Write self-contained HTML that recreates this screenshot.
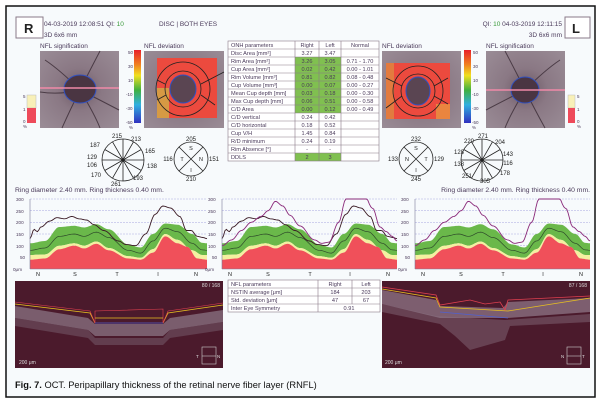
<!DOCTYPE html>
<html><head><meta charset="utf-8"><style>
html,body{margin:0;padding:0;background:#fff;}
svg{display:block;font-family:"Liberation Sans",sans-serif;}
</style></head><body>
<svg id="s" width="600" height="403" viewBox="0 0 600 403" xmlns="http://www.w3.org/2000/svg">
<defs>
<linearGradient id="cb" x1="0" y1="0" x2="0" y2="1">
<stop offset="0" stop-color="#e8202a"/><stop offset="0.2" stop-color="#f08020"/><stop offset="0.35" stop-color="#f0e020"/><stop offset="0.55" stop-color="#40b040"/><stop offset="0.75" stop-color="#30b0e0"/><stop offset="1" stop-color="#3030c0"/>
</linearGradient>
<radialGradient id="fund" cx="0.5" cy="0.5" r="0.7">
<stop offset="0" stop-color="#6a5662"/><stop offset="0.4" stop-color="#8a7884"/><stop offset="1" stop-color="#9a8c96"/>
</radialGradient>
</defs>
<rect x="0" y="0" width="600" height="403" fill="#fff"/>
<rect x="6" y="6" width="589" height="391" fill="#f7fafc" stroke="#111" stroke-width="1.5"/>

<!-- header -->
<rect x="16" y="17" width="27" height="21" fill="#fff" stroke="#8a7a88"/>
<text x="24" y="33" font-size="13" font-weight="bold" fill="#222">R</text>
<text x="44" y="26" font-size="6.5" fill="#4a3a5a">04-03-2019 12:08:51  QI: <tspan fill="#3a9a3a">10</tspan></text>
<text x="159" y="26" font-size="6.5" fill="#4a3a5a">DISC | BOTH EYES</text>
<text x="44" y="37" font-size="6.5" fill="#4a3a5a">3D  6x6 mm</text>
<rect x="565" y="17" width="25" height="21" fill="#fff" stroke="#8a7a88"/>
<text x="572" y="33" font-size="13" font-weight="bold" fill="#222">L</text>
<text x="562" y="26" font-size="6.5" fill="#4a3a5a" text-anchor="end">QI: <tspan fill="#3a9a3a">10</tspan>  04-03-2019 12:11:15</text>
<text x="562" y="37" font-size="6.5" fill="#4a3a5a" text-anchor="end">3D  6x6 mm</text>

<!-- left images -->
<text x="40" y="48" font-size="6.5" fill="#4a3a5a">NFL signification</text>
<rect x="40" y="51" width="79" height="77" fill="url(#fund)"/>
<g stroke="#3a2a34" stroke-width="1" fill="none" opacity="0.8">
<path d="M80 90 Q90 70 100 51 M80 90 Q60 70 45 60 M80 90 Q100 100 119 110 M80 90 Q70 110 62 128 M80 90 Q95 115 100 128 M80 90 Q60 95 40 92"/>
</g>
<ellipse cx="80" cy="89" rx="16" ry="14" fill="#4a3542" stroke="#3050c0" stroke-width="1"/>
<line x1="40" y1="88" x2="119" y2="88" stroke="#f08aa8" stroke-width="1.5"/>
<rect x="27" y="95" width="9" height="13" fill="#f8f0b8" stroke="#bbb" stroke-width="0.5"/>
<rect x="27" y="108" width="9" height="15" fill="#ee4a5a"/>
<text x="23" y="98" font-size="4.5" fill="#4a3a5a">5</text>
<text x="23" y="111" font-size="4.5" fill="#4a3a5a">1</text>
<text x="23" y="123" font-size="4.5" fill="#4a3a5a">0</text>
<text x="23" y="128" font-size="4.5" fill="#4a3a5a">%</text>
<rect x="134" y="50" width="7" height="73" fill="url(#cb)"/>
<g font-size="4.5" fill="#4a3a5a"><text x="128" y="54">50</text><text x="128" y="68">30</text><text x="128" y="82">10</text><text x="126" y="96">-10</text><text x="126" y="110">-30</text><text x="126" y="124">-50</text><text x="129" y="129">%</text></g>
<text x="144" y="48" font-size="6.5" fill="#4a3a5a">NFL deviation</text>
<rect x="144" y="51" width="80" height="77" fill="url(#fund)"/>
<rect x="157" y="58" width="60" height="60" fill="#ec4a3e"/>
<rect x="157" y="88" width="12" height="30" fill="#c8d04a" opacity="0.6"/>
<g fill="none" stroke="#222" stroke-width="0.8"><circle cx="183" cy="89" r="27"/><circle cx="183" cy="89" r="18"/><path d="M157 80 L165 84 M201 84 L224 72 M157 100 L166 95 M201 95 L215 105"/></g>
<ellipse cx="183" cy="89" rx="13" ry="14" fill="#5a4552" stroke="#3050c0"/>

<!-- right images -->
<text x="382" y="48" font-size="6.5" fill="#4a3a5a">NFL deviation</text>
<rect x="382" y="51" width="79" height="77" fill="url(#fund)"/>
<rect x="386" y="63" width="64" height="56" fill="#ec4a3e"/>
<rect x="386" y="63" width="8" height="56" fill="#d8b840" opacity="0.45"/>
<rect x="436" y="104" width="14" height="15" fill="#e8c040" opacity="0.5"/>
<g fill="none" stroke="#222" stroke-width="0.8"><circle cx="418" cy="91" r="25"/><circle cx="418" cy="91" r="17"/><path d="M386 78 L402 86 M434 86 L448 78 M386 108 L402 96 M434 96 L448 104"/></g>
<ellipse cx="418" cy="91" rx="12" ry="14" fill="#5a4552" stroke="#3050c0"/>
<rect x="464" y="50" width="7" height="73" fill="url(#cb)"/>
<g font-size="4.5" fill="#4a3a5a"><text x="473" y="54">50</text><text x="473" y="68">30</text><text x="473" y="82">10</text><text x="472" y="96">-10</text><text x="472" y="110">-30</text><text x="472" y="124">-50</text><text x="472" y="129">%</text></g>
<text x="486" y="48" font-size="6.5" fill="#4a3a5a">NFL signification</text>
<rect x="486" y="51" width="79" height="77" fill="url(#fund)"/>
<g stroke="#3a2a34" stroke-width="1" fill="none" opacity="0.8">
<path d="M525 90 Q515 70 505 51 M525 90 Q545 70 560 60 M525 90 Q505 100 486 110 M525 90 Q535 110 545 128 M525 90 Q510 115 505 128"/>
</g>
<ellipse cx="525" cy="90" rx="14" ry="13" fill="#4a3542" stroke="#3050c0"/>
<line x1="486" y1="90" x2="565" y2="90" stroke="#f08aa8" stroke-width="1.5"/>
<rect x="568" y="95" width="7" height="13" fill="#f8f0b8" stroke="#bbb" stroke-width="0.5"/>
<rect x="568" y="108" width="7" height="15" fill="#ee4a5a"/>
<g font-size="4.5" fill="#4a3a5a"><text x="577" y="98">5</text><text x="577" y="111">1</text><text x="577" y="123">0</text><text x="577" y="128">%</text></g>

<!-- sector diagrams -->
<g stroke="#222" stroke-width="0.8" fill="none">
<circle cx="123" cy="160" r="21"/><circle cx="191" cy="159" r="17"/><circle cx="416" cy="159" r="17"/><circle cx="482" cy="160" r="21"/>
<path d="M102 160 H144 M112.5 141.8 L133.5 178.2 M112.5 178.2 L133.5 141.8 M104.8 149.5 L141.2 170.5 M104.8 170.5 L141.2 149.5 M123 139 V181"/>
<path d="M461 160 H503 M471.5 141.8 L492.5 178.2 M471.5 178.2 L492.5 141.8 M463.8 149.5 L500.2 170.5 M463.8 170.5 L500.2 149.5 M482 139 V181"/>
<path d="M179 147 L203 171 M179 171 L203 147 M404 147 L428 171 M404 171 L428 147"/>
</g>
<g font-size="6" fill="#222" text-anchor="middle">
<text x="117" y="138">215</text><text x="136" y="141">213</text><text x="95" y="147">187</text><text x="150" y="153">165</text><text x="92" y="159">129</text><text x="92" y="167">106</text><text x="152" y="168">138</text><text x="96" y="177">170</text><text x="138" y="180">193</text><text x="116" y="186">261</text>
<text x="191" y="141">205</text><text x="168" y="161">116</text><text x="214" y="161">151</text><text x="191" y="181">210</text>
<text x="191" y="150" font-size="5.5">S</text><text x="182" y="161" font-size="5.5">T</text><text x="201" y="161" font-size="5.5">N</text><text x="191" y="172" font-size="5.5">I</text>
<text x="416" y="141">232</text><text x="393" y="161">133</text><text x="439" y="161">129</text><text x="416" y="181">245</text>
<text x="416" y="150" font-size="5.5">S</text><text x="407" y="161" font-size="5.5">N</text><text x="426" y="161" font-size="5.5">T</text><text x="416" y="172" font-size="5.5">I</text>
<text x="469" y="143">220</text><text x="483" y="138">271</text><text x="500" y="144">204</text><text x="459" y="154">128</text><text x="508" y="156">143</text><text x="459" y="166">138</text><text x="508" y="165">116</text><text x="467" y="178">251</text><text x="485" y="183">305</text><text x="505" y="175">178</text>
</g>

<text x="15" y="192" font-size="6.8" fill="#4a3a5a">Ring diameter 2.40 mm. Ring thickness 0.40 mm.</text>
<text x="590" y="192" font-size="6.8" fill="#4a3a5a" text-anchor="end">Ring diameter 2.40 mm. Ring thickness 0.40 mm.</text>

<!-- charts -->
<g id="charts"></g>
<g font-size="4.6" fill="#4a3a5a">
<g><text x="16" y="201">300</text><text x="16" y="213">250</text><text x="16" y="224">200</text><text x="16" y="236">150</text><text x="16" y="248">100</text><text x="20" y="259">50</text><text x="13" y="271">0μm</text></g>
<g transform="translate(192,0)"><text x="16" y="201">300</text><text x="16" y="213">250</text><text x="16" y="224">200</text><text x="16" y="236">150</text><text x="16" y="248">100</text><text x="20" y="259">50</text><text x="13" y="271">0μm</text></g>
<g transform="translate(385,0)"><text x="16" y="201">300</text><text x="16" y="213">250</text><text x="16" y="224">200</text><text x="16" y="236">150</text><text x="16" y="248">100</text><text x="20" y="259">50</text><text x="13" y="271">0μm</text></g>
</g>
<g font-size="5.5" fill="#222" text-anchor="middle">
<text x="38" y="276">N</text><text x="75" y="276">S</text><text x="117" y="276">T</text><text x="158" y="276">I</text><text x="196" y="276">N</text>
<text x="230" y="276">N</text><text x="268" y="276">S</text><text x="310" y="276">T</text><text x="350" y="276">I</text><text x="388" y="276">N</text>
<text x="423" y="276">N</text><text x="461" y="276">S</text><text x="503" y="276">T</text><text x="543" y="276">I</text><text x="581" y="276">N</text>
</g>

<!-- OCT images -->
<rect x="15" y="281" width="208" height="87" fill="#4b1a2c"/>
<path d="M15 306 L88 318 L95 324 L163 324 L170 318 L223 310 L223 322 L170 330 L163 336 L95 336 L88 330 L15 318 Z" fill="#9a8a9a" opacity="0.6"/>
<path d="M15 318 L88 330 L95 338 L163 338 L170 330 L223 322 L223 330 L170 338 L163 345 L95 345 L88 338 L15 326 Z" fill="#7a6070" opacity="0.5"/>
<path d="M15 304 L90 313 L95 323 M163 323 L168 313 L223 305" stroke="#e8c020" fill="none" stroke-width="0.8"/>
<path d="M15 302 L90 311 L95 323 M95 323 L95 311 L163 309 L163 323 M163 323 L168 311 L223 303" stroke="#e04050" fill="none" stroke-width="0.6"/>
<line x1="95" y1="318" x2="163" y2="318" stroke="#e8c020" stroke-width="0.8"/>
<line x1="95" y1="323" x2="163" y2="323" stroke="#5060d0" stroke-width="0.8"/>
<text x="220" y="287" font-size="5" fill="#ddd" text-anchor="end">80 / 168</text>
<text x="19" y="364" font-size="5" fill="#ddd">200 μm</text>
<rect x="202" y="347" width="14" height="17" fill="none" stroke="#ccc" stroke-width="0.6"/><text x="196" y="358" font-size="4.5" fill="#ddd">T</text><text x="217" y="358" font-size="4.5" fill="#ddd">N</text><line x1="202" y1="356" x2="216" y2="356" stroke="#ccc" stroke-width="0.6"/>

<rect x="382" y="281" width="208" height="87" fill="#4b1a2c"/>
<path d="M382 290 L436 300 L440 306 L503 308 L508 302 L590 298 L590 312 L508 318 L440 318 L382 304 Z" fill="#a898a8" opacity="0.55"/>
<path d="M382 304 L436 316 L505 320 L590 314 L590 322 L510 326 L505 340 L470 350 L455 336 L440 324 L382 312 Z" fill="#8a7080" opacity="0.45"/>
<path d="M382 289 L436 298 L440 307 L508 311 L590 298" stroke="#e8c020" fill="none" stroke-width="0.8"/>
<path d="M382 287 L436 295 L440 305 L470 300 L485 304 L500 302 L505 310 L508 300 L590 296" stroke="#e04050" fill="none" stroke-width="0.8"/>
<line x1="440" y1="312" x2="508" y2="318" stroke="#5060d0" stroke-width="0.8"/>
<text x="587" y="287" font-size="5" fill="#ddd" text-anchor="end">87 / 168</text>
<text x="385" y="364" font-size="5" fill="#ddd">200 μm</text>
<rect x="567" y="347" width="14" height="17" fill="none" stroke="#ccc" stroke-width="0.6"/><text x="561" y="358" font-size="4.5" fill="#ddd">N</text><text x="582" y="358" font-size="4.5" fill="#ddd">T</text><line x1="567" y1="356" x2="581" y2="356" stroke="#ccc" stroke-width="0.6"/>

<!-- NFL table -->
<g font-size="5.6" fill="#4a3a5a">
<rect x="228" y="280" width="152" height="32" fill="#fff" stroke="#8a7a88" stroke-width="0.6"/>
<path d="M228 288 H380 M228 296 H380 M228 304 H380 M318 280 V312 M352 280 V304" stroke="#8a7a88" stroke-width="0.6" fill="none"/>
<text x="231" y="286">NFL parameters</text><text x="335" y="286" text-anchor="middle">Right</text><text x="366" y="286" text-anchor="middle">Left</text>
<text x="231" y="294">NSTIN average [μm]</text><text x="335" y="294" text-anchor="middle">184</text><text x="366" y="294" text-anchor="middle">203</text>
<text x="231" y="302">Std. deviation [μm]</text><text x="335" y="302" text-anchor="middle">47</text><text x="366" y="302" text-anchor="middle">67</text>
<text x="231" y="310">Inter Eye Symmetry</text><text x="349" y="310" text-anchor="middle">0.91</text>
</g>

<text x="15" y="388" font-size="9.3" fill="#111"><tspan font-weight="bold">Fig. 7.</tspan> OCT. Peripapillary thickness of the retinal nerve fiber layer (RNFL)</text>

<g font-size="5.6" fill="#4a3a5a">
<rect x="228" y="41" width="151" height="120" fill="#fff"/>
<g fill="#80c050"><rect x="295" y="57" width="46" height="56"/><rect x="295" y="153" width="46" height="8"/></g>
<g stroke="#8a7a88" stroke-width="0.6" fill="none">
<rect x="228" y="41" width="151" height="120"/>
<path d="M295 41 V161 M319 41 V161 M341 41 V161 M228 49 H379 M228 57 H379 M228 65 H379 M228 73 H379 M228 81 H379 M228 89 H379 M228 97 H379 M228 105 H379 M228 113 H379 M228 121 H379 M228 129 H379 M228 137 H379 M228 145 H379 M228 153 H379"/>
</g>
<text x="231" y="47">ONH parameters</text><text x="307" y="47" text-anchor="middle">Right</text><text x="330" y="47" text-anchor="middle">Left</text><text x="360" y="47" text-anchor="middle">Normal</text>
<text x="231" y="55">Disc Area [mm²]</text><text x="307" y="55" text-anchor="middle">3.27</text><text x="330" y="55" text-anchor="middle">3.47</text>
<text x="231" y="63">Rim Area [mm²]</text><text x="307" y="63" text-anchor="middle">3.26</text><text x="330" y="63" text-anchor="middle">3.05</text><text x="360" y="63" text-anchor="middle">0.71 - 1.70</text>
<text x="231" y="71">Cup Area [mm²]</text><text x="307" y="71" text-anchor="middle">0.02</text><text x="330" y="71" text-anchor="middle">0.42</text><text x="360" y="71" text-anchor="middle">0.00 - 1.01</text>
<text x="231" y="79">Rim Volume [mm³]</text><text x="307" y="79" text-anchor="middle">0.81</text><text x="330" y="79" text-anchor="middle">0.82</text><text x="360" y="79" text-anchor="middle">0.08 - 0.48</text>
<text x="231" y="87">Cup Volume [mm³]</text><text x="307" y="87" text-anchor="middle">0.00</text><text x="330" y="87" text-anchor="middle">0.07</text><text x="360" y="87" text-anchor="middle">0.00 - 0.27</text>
<text x="231" y="95">Mean Cup depth [mm]</text><text x="307" y="95" text-anchor="middle">0.03</text><text x="330" y="95" text-anchor="middle">0.18</text><text x="360" y="95" text-anchor="middle">0.00 - 0.30</text>
<text x="231" y="103">Max Cup depth [mm]</text><text x="307" y="103" text-anchor="middle">0.06</text><text x="330" y="103" text-anchor="middle">0.51</text><text x="360" y="103" text-anchor="middle">0.00 - 0.58</text>
<text x="231" y="111">C/D Area</text><text x="307" y="111" text-anchor="middle">0.00</text><text x="330" y="111" text-anchor="middle">0.12</text><text x="360" y="111" text-anchor="middle">0.00 - 0.49</text>
<text x="231" y="119">C/D vertical</text><text x="307" y="119" text-anchor="middle">0.24</text><text x="330" y="119" text-anchor="middle">0.42</text>
<text x="231" y="127">C/D horizontal</text><text x="307" y="127" text-anchor="middle">0.18</text><text x="330" y="127" text-anchor="middle">0.52</text>
<text x="231" y="135">Cup V/H</text><text x="307" y="135" text-anchor="middle">1.45</text><text x="330" y="135" text-anchor="middle">0.84</text>
<text x="231" y="143">R/D minimum</text><text x="307" y="143" text-anchor="middle">0.24</text><text x="330" y="143" text-anchor="middle">0.19</text>
<text x="231" y="151">Rim Absence [°]</text><text x="307" y="151" text-anchor="middle">-</text><text x="330" y="151" text-anchor="middle">-</text>
<text x="231" y="159">DDLS</text><text x="307" y="159" text-anchor="middle">2</text><text x="330" y="159" text-anchor="middle">3</text>
</g>
</svg>
<script>
(function(){
var NS="http://www.w3.org/2000/svg";
function interp(pts,x){for(var i=0;i<pts.length-1;i++){if(x>=pts[i][0]&&x<=pts[i+1][0]){var t=(x-pts[i][0])/(pts[i+1][0]-pts[i][0]);t=(1-Math.cos(t*Math.PI))/2;return pts[i][1]+t*(pts[i+1][1]-pts[i][1]);}}return pts[pts.length-1][1];}
var gU=[[0,110],[30,120],[60,180],[90,185],[110,178],[135,192],[160,170],[200,105],[225,92],[250,150],[275,195],[300,190],[330,150],[350,112],[360,110]];
var gL=[[0,60],[30,62],[60,100],[90,110],[110,100],[135,118],[160,90],[200,55],[225,48],[250,85],[275,150],[300,125],[330,80],[350,60],[360,60]];
var rT=[[0,40],[30,45],[60,85],[90,100],[110,88],[135,108],[160,80],[200,45],[225,40],[250,70],[275,140],[300,110],[320,95],[340,45],[360,40]];
var mn=[[0,80],[30,90],[60,140],[90,150],[110,140],[135,158],[160,135],[200,80],[225,68],[250,120],[275,175],[300,160],[330,110],[350,82],[360,80]];
var brown=[[0,130],[8,170],[15,160],[22,180],[40,205],[55,220],[70,215],[85,225],[100,215],[115,210],[130,190],[150,165],[180,120],[195,105],[215,100],[235,150],[255,235],[270,270],[285,262],[305,225],[318,165],[328,165],[340,140],[352,135],[360,130]];
var purple=[[0,100],[20,125],[40,165],[60,200],[80,225],[95,250],[110,290],[125,270],[140,230],[160,185],[190,125],[205,110],[220,115],[240,200],[255,300],[270,330],[290,330],[310,260],[325,180],[338,160],[350,140],[360,120]];
var g=document.getElementById('charts');
function el(n,a){var e=document.createElementNS(NS,n);for(var k in a)e.setAttribute(k,a[k]);g.appendChild(e);return e;}
function chart(x0,x1,lines){
 var y0=269,sc=70/300;
 function X(d){return x0+(x1-x0)*d/360;} function Y(v){return y0-Math.min(v,300)*sc;}
 for(var v=50;v<=300;v+=50)el('line',{x1:x0,x2:x1,y1:Y(v),y2:Y(v),stroke:'#a8a8e0','stroke-width':0.5,'stroke-dasharray':'2,1'});
 function band(up,lo,fill){var d='M';for(var i=0;i<=360;i+=3)d+=X(i).toFixed(1)+' '+Y(interp(up,i)).toFixed(1)+' L';for(var i=360;i>=0;i-=3)d+=X(i).toFixed(1)+' '+Y(lo?interp(lo,i):0).toFixed(1)+(i>0?' L':'');el('path',{d:d+'Z',fill:fill});}
 band(gU,gL,'#6ab84a');band(gL,rT,'#f4f0a0');band(rT,null,'#f0505a');
 function line(p,c,w){var d='M';for(var i=0;i<=360;i+=3)d+=X(i).toFixed(1)+' '+Y(interp(p,i)).toFixed(1)+(i<360?' L':'');el('path',{d:d,fill:'none',stroke:c,'stroke-width':w});}
 line(mn,'#2e4a2a',0.7);
 lines.forEach(function(l){line(l[0],l[1],0.9);});
 el('line',{x1:x0,x2:x0,y1:199,y2:269,stroke:'#7a7a9a','stroke-width':0.6});
 el('line',{x1:x0,x2:x1,y1:269,y2:269,stroke:'#7a7a9a','stroke-width':0.6});
}
chart(30,207,[[brown,'#3a1a24']]);
chart(222,397,[[brown,'#3a1a24'],[purple,'#8a2a7a']]);
chart(415,590,[[purple,'#8a2a7a']]);
})();
</script>
</body></html>
